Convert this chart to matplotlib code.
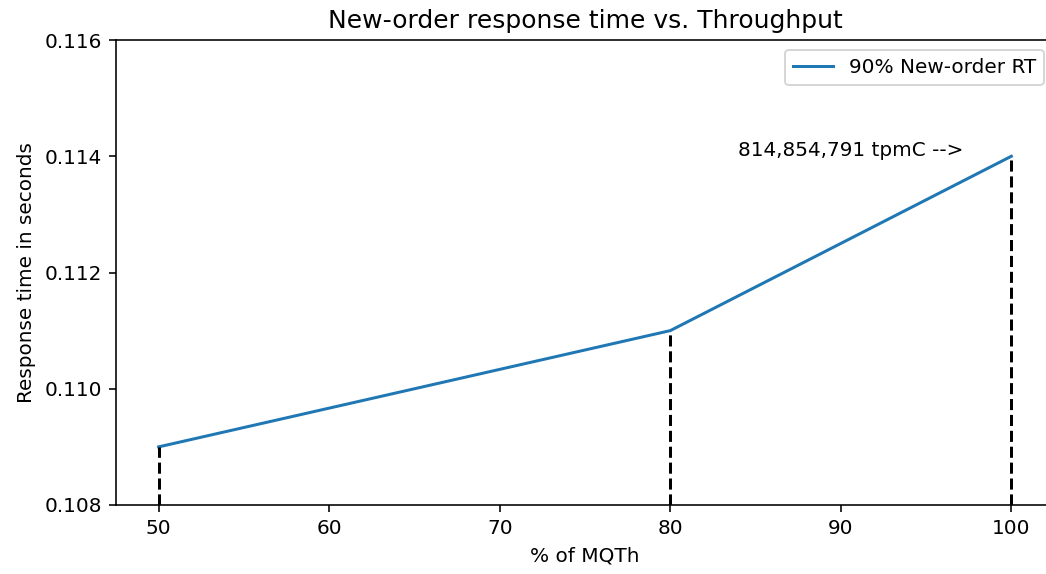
import matplotlib
matplotlib.use('Agg')
import matplotlib.pyplot as plt

### data ----

mqth = [50, 80, 100]
rt90 = [0.109, 0.111, 0.114]
tpmc_label = '814,854,791 tpmC -->'

### plot ----

fig = plt.figure(figsize=(1046 / 144, 574 / 144), dpi=144)
ax = fig.add_axes([116 / 1046, 69 / 574, 938 / 1046, 465 / 574])

ax.plot(mqth, rt90, label='90% New-order RT')
for xi, yi in zip(mqth, rt90):
    ax.vlines(xi, 0.108, yi, colors='k', linestyles='dashed')

ax.text(84, 0.114, tpmc_label)
ax.set_xlim(47.5, 102.5)
ax.set_ylim(0.108, 0.116)
ax.set_xticks([50, 60, 70, 80, 90, 100])
ax.set_yticks([0.108, 0.110, 0.112, 0.114, 0.116])
ax.spines['right'].set_visible(False)
ax.set_title('New-order response time vs. Throughput', fontsize=12.5)
ax.set_xlabel('% of MQTh')
ax.set_ylabel('Response time in seconds')
ax.legend(loc='upper right')

fig.savefig('out.png', dpi=144)
